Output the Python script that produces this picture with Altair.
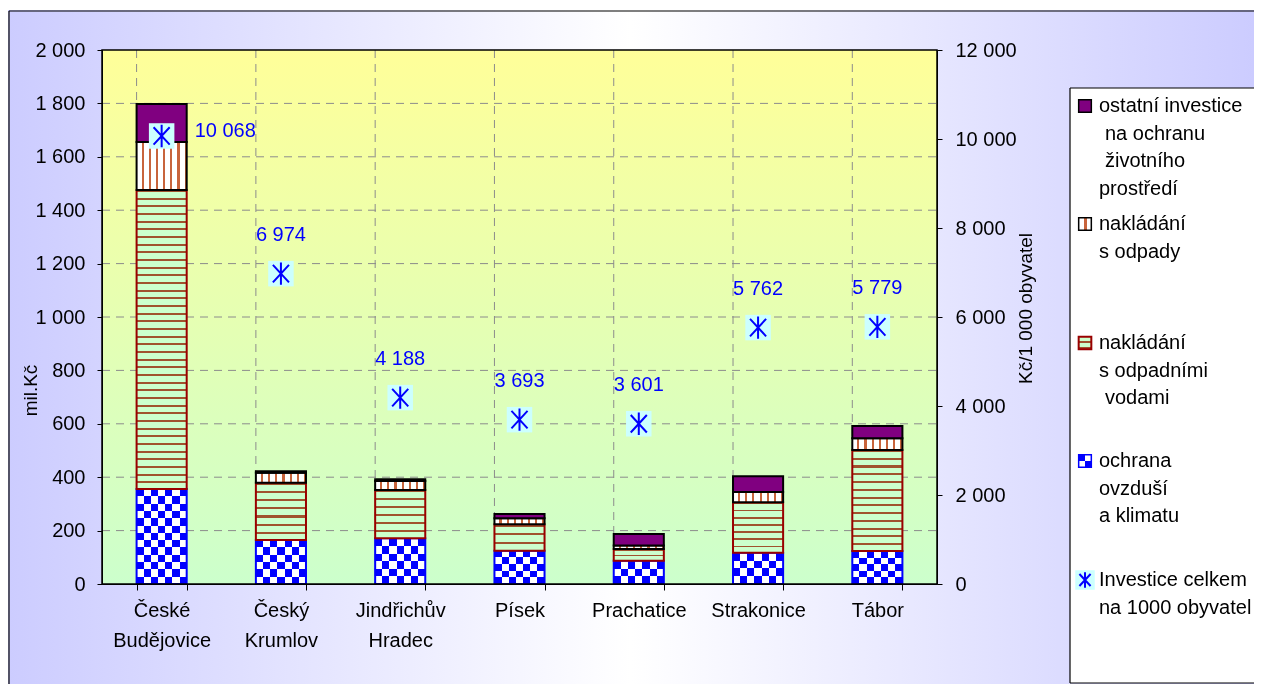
import math
import altair as alt
import pandas as pd

# ---------------- data ----------------
districts = ["České\nBudějovice", "Český\nKrumlov", "Jindřichův\nHradec", "Písek",
             "Prachatice", "Strakonice", "Tábor"]
air = [356, 165, 171, 125, 87, 117, 124]          # ochrana ovzduší a klimatu
water = [1120, 214, 181, 99, 44, 189, 378]        # nakládání s odpadními vodami
waste = [179, 38, 34, 22, 13, 39, 44]             # nakládání s odpady
other = [143, 5, 6, 16, 43, 59, 46]               # ostatní investice
per_capita = [10068, 6974, 4188, 3693, 3601, 5762, 5779]
left_ticks = [0, 200, 400, 600, 800, 1000, 1200, 1400, 1600, 1800, 2000]
right_ticks = [0, 2000, 4000, 6000, 8000, 10000, 12000]
legend_labels = [
    ["ostatní investice", " na ochranu", " životního", "prostředí"],
    ["nakládání", "s odpady"],
    ["nakládání", "s odpadními", " vodami"],
    ["ochrana", "ovzduší", "a klimatu"],
    ["Investice celkem", "na 1000 obyvatel"],
]

# ---------------- layout / style ----------------
W, H = 835, 534
PX = H / 2000.0
FONT = "Liberation Sans"
BLUE = "#0000ff"
CYAN = "#ccffff"
PURPLE = "#800080"
DARKRED = "#990000"
STRIPE = "#a0522d"
WSTRIPE = "#c8643c"
LGREEN = "#ccffcc"
STAR = "M0,-1L0,1M-0.72,-0.78L0.72,0.78M-0.72,0.78L0.72,-0.78"

df = pd.DataFrame({"idx": list(range(len(districts))), "district": districts,
                   "air": air, "water": water, "waste": waste, "other": other,
                   "pc": per_capita})
df["air_lo"] = 0
df["air_hi"] = df["air"]
df["water_lo"] = df["air_hi"]
df["water_hi"] = df["water_lo"] + df["water"]
df["waste_lo"] = df["water_hi"]
df["waste_hi"] = df["waste_lo"] + df["waste"]
df["other_lo"] = df["waste_hi"]
df["other_hi"] = df["other_lo"] + df["other"]
df["pc_text"] = [f"{v:,}".replace(",", " ") for v in per_capita]

one = pd.DataFrame({"a": [0]})
grid_df = pd.DataFrame({"v": left_ticks[1:-1]})


def grad(n, c1, c2, along="x", frac=0.5):
    stops = []
    k = 0
    while k / n < 1 - 1e-9:
        a = k / n
        b = min(1.0, (k + frac) / n)
        c = min(1.0, (k + 1) / n)
        stops += [{"offset": round(a, 5), "color": c1}, {"offset": round(b, 5), "color": c1},
                  {"offset": round(b, 5), "color": c2}, {"offset": round(c, 5), "color": c2}]
        k += 1
    return {"gradient": "linear", "x1": 0, "y1": 0,
            "x2": 1 if along == "x" else 0, "y2": 1 if along == "y" else 0,
            "stops": stops}


fmt = "replace(format(datum.value, ','), ',', ' ')"
x_scale = alt.Scale(domain=districts, paddingInner=0.58, paddingOuter=0.29)
x_axis = alt.Axis(title=None, labelExpr="split(datum.label, '\\n')", labelFontSize=20,
                  labelLineHeight=30, labelColor="black", labelPadding=10, labelAngle=0,
                  tickBand="extent", tickSize=6, tickColor="black", domainColor="black",
                  grid=False, zindex=1)
y_scale = alt.Scale(domain=[0, 2000], nice=False)
y_axis = alt.Axis(title="mil.Kč", values=left_ticks, labelExpr=fmt, labelFontSize=20,
                  labelColor="black", labelPadding=12, tickSize=5, tickColor="black",
                  domainColor="black", grid=False, zindex=1, titleFontSize=19,
                  titleFontWeight="normal", titleColor="black", titleAngle=270,
                  titleX=-72, titleY=340, titleAlign="center", titleBaseline="middle")
yr_scale = alt.Scale(domain=[0, 12000], nice=False)
yr_axis = alt.Axis(title="Kč/1 000 obyvatel", orient="right", values=right_ticks,
                   labelExpr=fmt, labelFontSize=20, labelColor="black", labelPadding=13,
                   tickSize=5, tickColor="black", domainColor="black", grid=False,
                   zindex=1, titleFontSize=19, titleFontWeight="normal",
                   titleColor="black", titleAngle=270, titleX=88, titleY=258,
                   titleAlign="center", titleBaseline="middle")


def X(**kw):
    return alt.X("district:N", scale=x_scale, axis=x_axis, **kw)


def Y(f):
    return alt.Y(f"{f}:Q", scale=y_scale, axis=y_axis)


base = alt.Chart(df)

left = []
# figure background + frame
left.append(alt.Chart(one).mark_rect(fill={"gradient": "linear", "x1": 0, "y1": 0, "x2": 1, "y2": 0,
                                            "stops": [{"offset": 0, "color": "#ccccff"},
                                                      {"offset": 0.5, "color": "#ffffff"},
                                                      {"offset": 1, "color": "#ccccff"}]})
            .encode(x=alt.value(-94), x2=alt.value(1152), y=alt.value(-40), y2=alt.value(634)))
left.append(alt.Chart(one).mark_rule(color="black", strokeWidth=1.2)
            .encode(x=alt.value(-93), x2=alt.value(1152), y=alt.value(-39)))
left.append(alt.Chart(one).mark_rule(color="black", strokeWidth=1.2)
            .encode(x=alt.value(-93), y=alt.value(-39), y2=alt.value(634)))
# plot background
left.append(alt.Chart(one).mark_rect(fill={"gradient": "linear", "x1": 0, "y1": 0, "x2": 0, "y2": 1,
                                            "stops": [{"offset": 0, "color": "#ffff99"},
                                                      {"offset": 1, "color": "#ccffcc"}]})
            .encode(x=alt.value(0), x2=alt.value(W), y=alt.value(0), y2=alt.value(H)))
# grid
left.append(alt.Chart(grid_df).mark_rule(color="#8c8c8c", strokeDash=[8, 6], strokeWidth=1)
            .encode(y=Y("v"), x=alt.value(0), x2=alt.value(W)))
left.append(base.mark_rule(color="#8c8c8c", strokeDash=[8, 6], strokeWidth=1)
            .encode(x=X(bandPosition=0), y=alt.value(0), y2=alt.value(H)))

# air: checkerboard = column stripes + difference-blended row stripes
left.append(base.mark_bar(fill=grad(3.5, BLUE, "#ffffff", "x"))
            .encode(x=X(), y=Y("air_hi"), y2="air_lo"))
for i in range(len(districts)):
    h = air[i] * PX
    n = max(1, round(h / 7.2)) / 2.0
    left.append(base.mark_bar(fill=grad(n, "#000000", "#ffff00", "y"), blend="difference")
                .encode(x=X(), y=Y("air_hi"), y2="air_lo")
                .transform_filter(f"datum.idx == {i}"))
left.append(base.mark_bar(filled=False, stroke=BLUE, strokeWidth=2)
            .encode(x=X(), y=Y("air_hi"), y2="air_lo"))
# water: horizontal stripes
for i in range(len(districts)):
    h = water[i] * PX
    n = max(1, round(h / 7.7))
    left.append(base.mark_bar(fill=grad(n, STRIPE, LGREEN, "y", frac=0.27),
                              stroke=DARKRED, strokeWidth=2)
                .encode(x=X(), y=Y("water_hi"), y2="water_lo")
                .transform_filter(f"datum.idx == {i}"))
# waste: vertical stripes
left.append(base.mark_bar(fill=grad(7, "#ffffff", WSTRIPE, "x", frac=0.7),
                          stroke="black", strokeWidth=2)
            .encode(x=X(), y=Y("waste_hi"), y2="waste_lo"))
# other
left.append(base.mark_bar(fill=PURPLE, stroke="black", strokeWidth=2)
            .encode(x=X(), y=Y("other_hi"), y2="other_lo"))
# plot frame
left.append(alt.Chart(one).mark_rect(fillOpacity=0, stroke="black", strokeWidth=1.5)
            .encode(x=alt.value(0), x2=alt.value(W), y=alt.value(0), y2=alt.value(H)))

left_chart = alt.layer(*left)


def YR():
    return alt.Y("pc:Q", scale=yr_scale, axis=yr_axis)


right = []
right.append(base.mark_square(size=650, color=CYAN, filled=True, opacity=1)
             .encode(x=X(), y=YR()))
right.append(base.mark_point(shape=STAR, size=500, filled=False, stroke=BLUE,
                             strokeWidth=2, opacity=1)
             .encode(x=X(), y=YR()))
right.append(base.mark_text(fontSize=20, color=BLUE, align="left", dx=33, dy=-5)
             .encode(x=X(), y=YR(), text="pc_text:N")
             .transform_filter("datum.idx == 0"))
right.append(base.mark_text(fontSize=20, color=BLUE, align="center", dy=-39)
             .encode(x=X(), y=YR(), text="pc_text:N")
             .transform_filter("datum.idx > 0"))

# ---------------- legend ----------------
LX0, LX1, LY0, LY1 = 968, 1152, 38, 633
right.append(alt.Chart(one).mark_rect(fill="white")
             .encode(x=alt.value(LX0), x2=alt.value(LX1), y=alt.value(LY0), y2=alt.value(LY1)))
for yy in (LY0, LY1):
    right.append(alt.Chart(one).mark_rule(color="black", strokeWidth=1.2)
                 .encode(x=alt.value(LX0), x2=alt.value(LX1), y=alt.value(yy)))
right.append(alt.Chart(one).mark_rule(color="black", strokeWidth=1.2)
             .encode(x=alt.value(LX0), y=alt.value(LY0), y2=alt.value(LY1)))

entry_y = [56, 174, 293, 411, 530]
SX = 983
right.append(alt.Chart(one).mark_square(size=160, fill=PURPLE, stroke="black", strokeWidth=1.5, opacity=1)
             .encode(x=alt.value(SX), y=alt.value(entry_y[0])))
right.append(alt.Chart(one).mark_square(size=160, fill=grad(1.5, "#ffffff", WSTRIPE, "x", frac=0.6),
                                        stroke="black", strokeWidth=1.5, opacity=1)
             .encode(x=alt.value(SX), y=alt.value(entry_y[1])))
right.append(alt.Chart(one).mark_square(size=160, fill=grad(2, LGREEN, STRIPE, "y", frac=0.7),
                                        stroke=DARKRED, strokeWidth=2, opacity=1)
             .encode(x=alt.value(SX), y=alt.value(entry_y[2])))
right.append(alt.Chart(one).mark_square(size=160, fill=grad(1, BLUE, "#ffffff", "x"), opacity=1)
             .encode(x=alt.value(SX), y=alt.value(entry_y[3])))
right.append(alt.Chart(one).mark_square(size=160, fill=grad(1, "#000000", "#ffff00", "y"),
                                        blend="difference", opacity=1)
             .encode(x=alt.value(SX), y=alt.value(entry_y[3])))
right.append(alt.Chart(one).mark_square(size=160, filled=False, stroke=BLUE, strokeWidth=1.5, opacity=1)
             .encode(x=alt.value(SX), y=alt.value(entry_y[3])))
right.append(alt.Chart(one).mark_square(size=380, color=CYAN, filled=True, opacity=1)
             .encode(x=alt.value(SX), y=alt.value(entry_y[4])))
right.append(alt.Chart(one).mark_point(shape=STAR, size=240, filled=False, stroke=BLUE,
                                       strokeWidth=2, opacity=1)
             .encode(x=alt.value(SX), y=alt.value(entry_y[4])))
for lines, ey in zip(legend_labels, entry_y):
    for j, line in enumerate(lines):
        indent = 6 if line.startswith(" ") else 0
        right.append(alt.Chart(one).mark_text(align="left", baseline="middle", fontSize=20,
                                              color="black")
                     .encode(x=alt.value(997 + indent), y=alt.value(ey + 27.5 * j),
                             text=alt.value(line.strip())))

right_chart = alt.layer(*right)

chart = (alt.layer(left_chart, right_chart)
         .resolve_scale(y="independent")
         .properties(width=W, height=H,
                     padding={"left": 0, "top": 2, "right": 0, "bottom": 0})
         .configure(font=FONT)
         .configure_view(stroke=None))

chart.save("out.html", embed_options={"renderer": "svg", "actions": False})
